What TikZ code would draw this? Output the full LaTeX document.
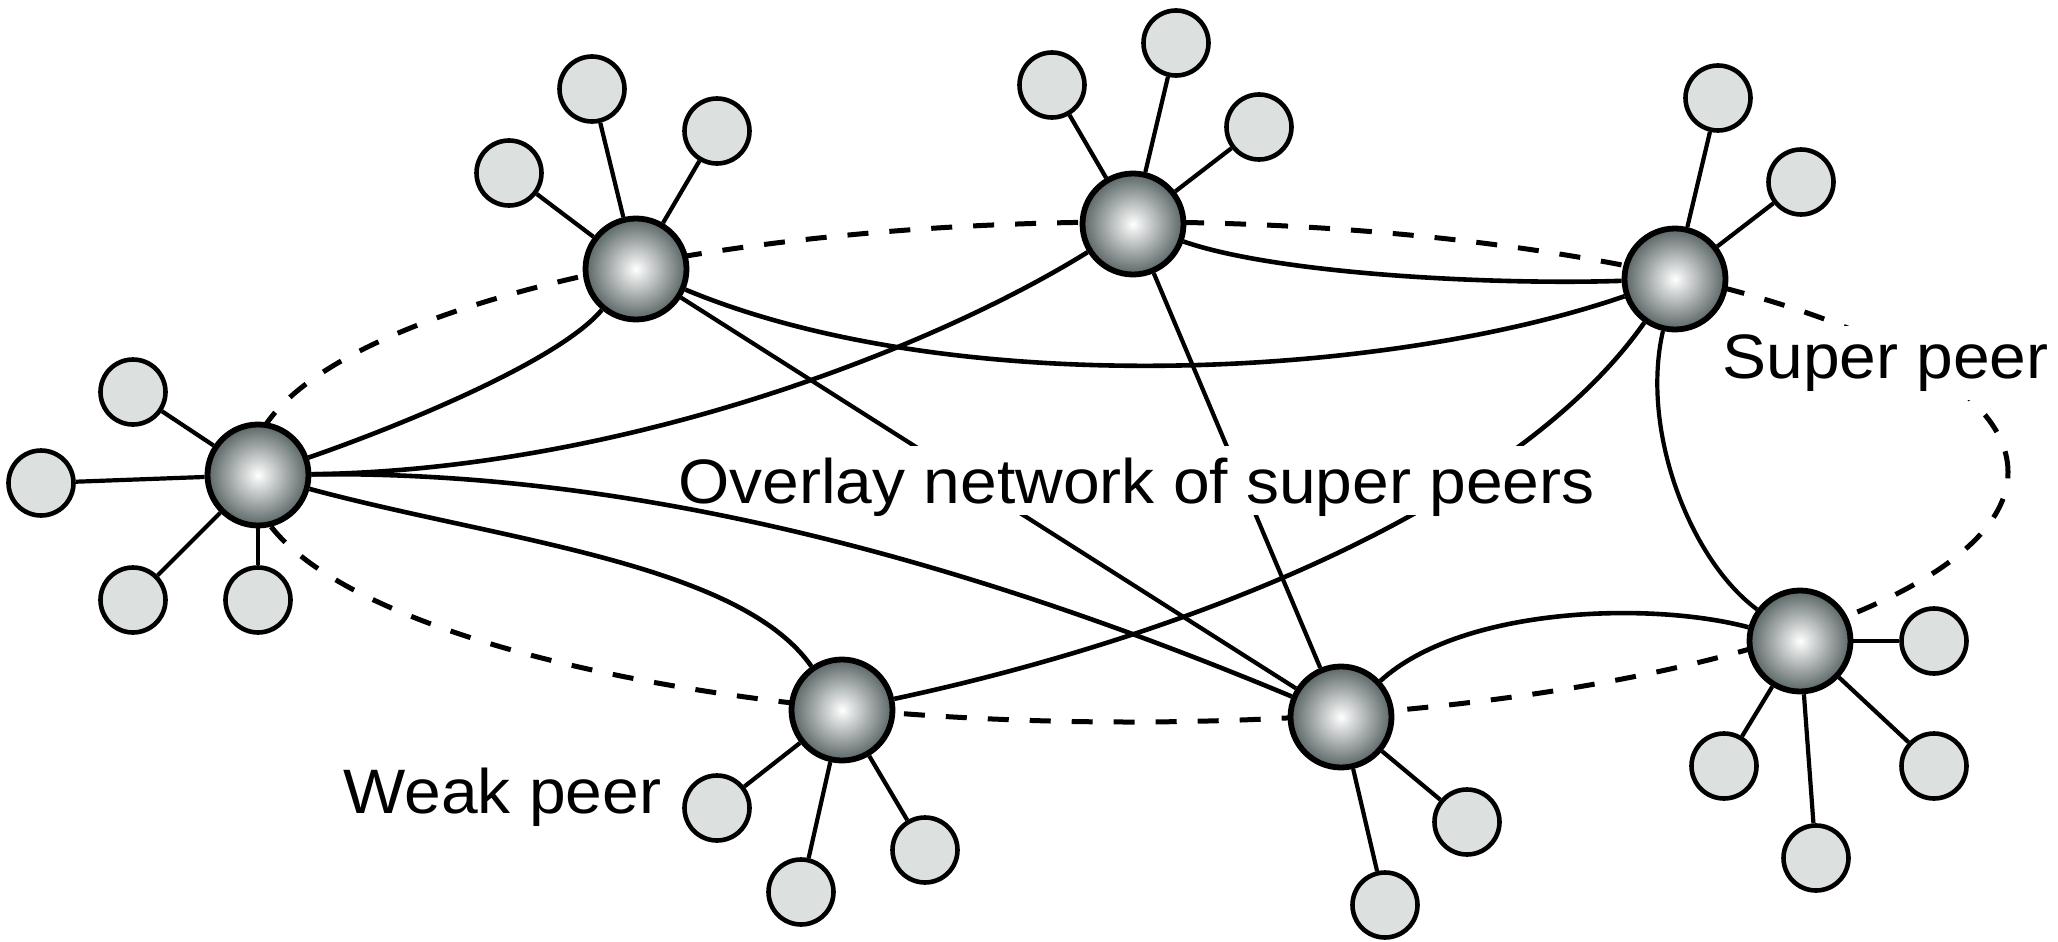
\documentclass[tikz,border=0pt]{standalone}
\usepackage{fontspec}
\setmainfont{Liberation Sans}[FakeStretch=1.05]
\pgfdeclarelayer{bg}
\pgfsetlayers{bg,main}
\definecolor{spouter}{RGB}{90,101,101}
\definecolor{wpfill}{RGB}{220,225,224}
\tikzset{
  superpeer/.style={circle, draw=black, line width=2.9pt, inner color=white, outer color=spouter, minimum size=50.5pt, inner sep=0pt},
  weakpeer/.style={circle, draw=black, line width=2.3pt, fill=wpfill, minimum size=32.5pt, inner sep=0pt},
  spoke/.style={line width=2.1pt},
  link/.style={line width=2.3pt},
  overlayring/.style={line width=2.5pt, dash pattern=on 10.5pt off 10.5pt},
  lbltext/.style={font=\fontsize{31.4pt}{36pt}\selectfont, inner sep=0pt},
}
\begin{document}
\begin{tikzpicture}[x=0.5pt,y=-0.5pt]
\useasboundingbox (0,0) rectangle (2058,942);

% super peers
\node[superpeer] (s1) at (258,475) {};
\node[superpeer] (s2) at (636,269) {};
\node[superpeer] (s3) at (1133,224) {};
\node[superpeer] (s4) at (1675,279) {};
\node[superpeer] (s5) at (1800,641) {};
\node[superpeer] (s6) at (1341,717) {};
\node[superpeer] (s7) at (842,710) {};

% weak peers
\node[weakpeer] (a1) at (133,392) {};
\node[weakpeer] (a2) at (41,483) {};
\node[weakpeer] (a3) at (133,600) {};
\node[weakpeer] (a4) at (258,600) {};
\node[weakpeer] (b1) at (509,173) {};
\node[weakpeer] (b2) at (592,89) {};
\node[weakpeer] (b3) at (717,131) {};
\node[weakpeer] (c1) at (1052,85) {};
\node[weakpeer] (c2) at (1176,43) {};
\node[weakpeer] (c3) at (1259,127) {};
\node[weakpeer] (d1) at (1718,98) {};
\node[weakpeer] (d2) at (1801,182) {};
\node[weakpeer] (e1) at (1934,641) {};
\node[weakpeer] (e2) at (1724,766) {};
\node[weakpeer] (e3) at (1816,858) {};
\node[weakpeer] (e4) at (1934,766) {};
\node[weakpeer] (f1) at (1467,822) {};
\node[weakpeer] (f2) at (1385,905) {};
\node[weakpeer] (g1) at (717,808) {};
\node[weakpeer] (g2) at (801,892) {};
\node[weakpeer] (g3) at (925,850) {};

\begin{pgfonlayer}{bg}
  % dashed overlay ring
  \draw[overlayring] (1129,472) ellipse [x radius=439.5pt, y radius=125pt];
  % spokes to weak peers
  \foreach \w in {a1,a2,a3,a4} \draw[spoke] (s1) -- (\w);
  \foreach \w in {b1,b2,b3} \draw[spoke] (s2) -- (\w);
  \foreach \w in {c1,c2,c3} \draw[spoke] (s3) -- (\w);
  \foreach \w in {d1,d2} \draw[spoke] (s4) -- (\w);
  \foreach \w in {e1,e2,e3,e4} \draw[spoke] (s5) -- (\w);
  \foreach \w in {f1,f2} \draw[spoke] (s6) -- (\w);
  \foreach \w in {g1,g2,g3} \draw[spoke] (s7) -- (\w);
  % overlay links
  \draw[link] (s1) .. controls (400,426) and (559,361) .. (s2);
  \draw[link] (s1) .. controls (620,470) and (930,350) .. (s3);
  \draw[link] (s1) .. controls (499,540) and (739,563) .. (s7);
  \draw[link] (s2) .. controls (950,400) and (1380,380) .. (s4);
  \draw[spoke] (s2) -- (s6);
  \draw[link] (s3) .. controls (1280,275) and (1500,285) .. (s4);
  \draw[spoke] (s3) -- (s6);
  \draw[link] (s4) .. controls (1514,508) and (1184,637) .. (s7);
  \draw[spoke] (s4) .. controls (1640,430) and (1690,560) .. (s5);
  \draw[link] (s6) .. controls (1461,607) and (1650,601) .. (s5);
\end{pgfonlayer}

% labels
\node[lbltext, fill=white, anchor=base west, inner xsep=4pt, text height=28.5pt, text depth=6pt] (ovl) at (670,503) {Overlay network of super peers};
\node[lbltext, fill=white, anchor=base west, inner xsep=4pt, text height=26pt, text depth=11pt] (spl) at (1714,378) {Super peer};
\node[lbltext, anchor=base west] (wpl) at (343,813) {Weak peer};

% link passing in front of the overlay label box
\draw[link] (s1) .. controls (660,470) and (1000,575) .. (s6);
\end{tikzpicture}
\end{document}
